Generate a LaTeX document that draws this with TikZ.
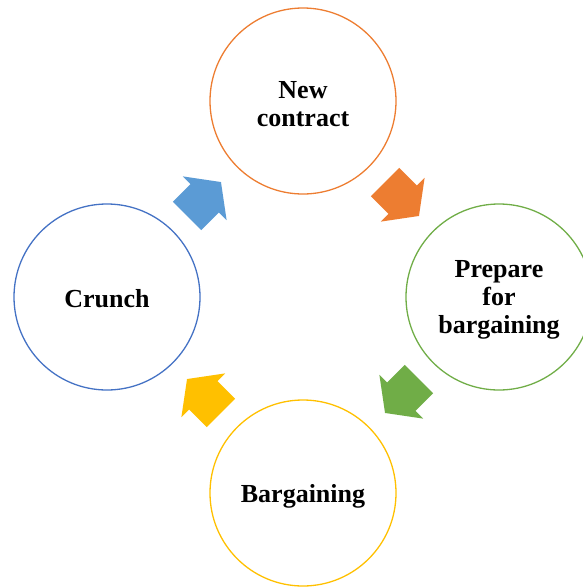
\documentclass[tikz,border=0pt]{standalone}
\usepackage{fontspec}
\setmainfont{Liberation Serif}
\definecolor{cOrange}{HTML}{ED7D31}
\definecolor{cGreen}{HTML}{70AD47}
\definecolor{cYellow}{HTML}{FFC000}
\definecolor{cBlue}{HTML}{5B9BD5}
\definecolor{cBlueLine}{HTML}{4472C4}
\begin{document}
\begin{tikzpicture}[x=1pt,y=-1pt,
  stage/.style={circle,draw,line width=1.3pt,minimum size=186pt,inner sep=0pt,
    align=center,font=\fontsize{26pt}{28pt}\selectfont\bfseries},
  stagetext/.style={align=center,inner sep=0pt,font=\fontsize{26pt}{28pt}\selectfont\bfseries},
  blockarrow/.pic={\fill[pic actions] (-24,-20) -- (1,-20) -- (1,-31) -- (24,0) -- (1,31) -- (1,20) -- (-24,20) -- cycle;}]
\useasboundingbox (0,0) rectangle (582,587);
\node[stage,draw=cOrange] (nc) at (303,101) {};
\node[stage,draw=cGreen] (pb) at (499,297) {};
\node[stage,draw=cYellow] (bg) at (303,493) {};
\node[stage,draw=cBlueLine] (cr) at (107,297) {};
\node[stagetext] (nct) at ([yshift=-3pt]nc.center) {New\\contract};
\node[stagetext] (pbt) at ([yshift=-3pt]pb.center) {Prepare\\for\\bargaining};
\node[stagetext] (bgt) at ([yshift=-3pt]bg.center) {Bargaining};
\node[stagetext] (crt) at ([yshift=-2pt]cr.center) {Crunch};
\pic[fill=cBlue,rotate=45] at (204,199) {blockarrow};
\pic[fill=cOrange,rotate=-45] at (402,199) {blockarrow};
\pic[fill=cGreen,rotate=-135] at (402,396) {blockarrow};
\pic[fill=cYellow,rotate=135] at (204,396) {blockarrow};
\end{tikzpicture}
\end{document}
